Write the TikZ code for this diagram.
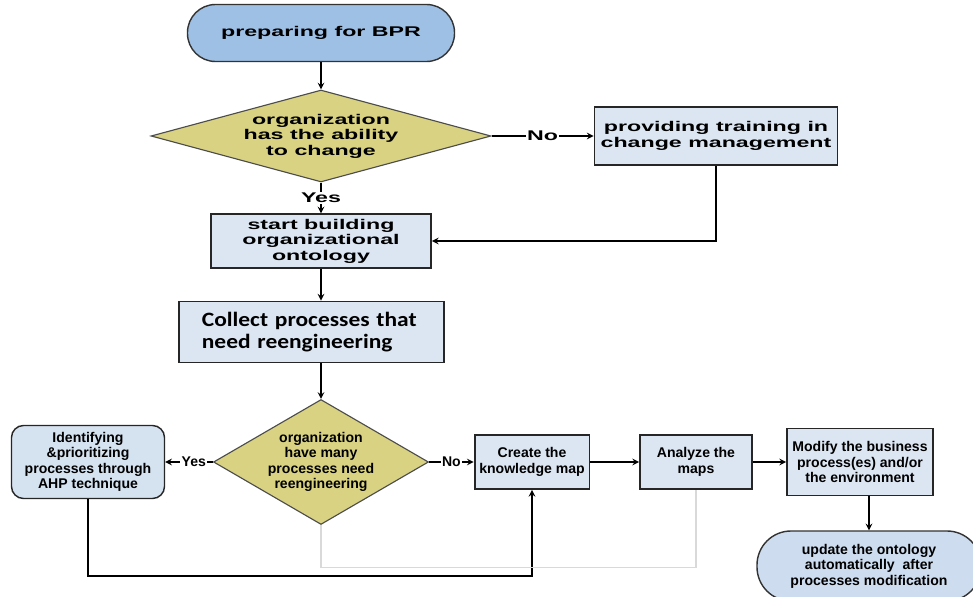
\documentclass[tikz,border=0pt]{standalone}
\usepackage{fontspec}
\setmainfont{Liberation Sans}
\newfontfamily\widefont[FakeStretch=1.65]{Liberation Sans}
\newfontfamily\calibfont[FakeStretch=1.15]{Carlito}
\usepackage{tikz}
\usetikzlibrary{arrows.meta, positioning, shapes.geometric}
\definecolor{termblue}{RGB}{158,192,228}
\definecolor{boxblue}{RGB}{220,230,242}
\definecolor{ahpblue}{RGB}{213,226,240}
\definecolor{endblue}{RGB}{205,220,238}
\definecolor{decyellow}{RGB}{216,210,130}

\begin{document}
\begin{tikzpicture}[
        node distance = 2.5cm,
        terminal/.style={rectangle, rounded corners=0.7cm, draw=black!80, line width=1pt, fill=termblue, text centered},
        process/.style={rectangle, draw=black!85, line width=1.3pt, fill=boxblue, text centered},
        decision/.style={diamond, draw=black!70, line width=0.8pt, fill=decyellow, text centered, inner sep=0pt},
        toptext/.style={font=\widefont\bfseries\fontsize{10}{11}\selectfont, align=center},
        lowtext/.style={font=\bfseries\fontsize{10}{11}\selectfont, align=center},
        arrow/.style={->, line width=1.1pt, >=stealth},
        faint/.style={draw=black!15, line width=0.8pt}
    ]
        \useasboundingbox (0,0) rectangle (24.325,-14.925);

        % upper part
        \node[terminal, toptext, minimum width=6.675cm, minimum height=1.425cm] (prep) at (8.025,-0.825) {preparing for BPR};
        \node[decision, toptext, aspect=3.7, minimum width=8.5cm, minimum height=2.3cm, node distance=2.575cm, below of=prep] (ability) {organization\\has the ability\\to change};
        \node[process, toptext, minimum width=6.075cm, minimum height=1.45cm, node distance=9.875cm, right of=ability] (train) {providing training in\\change management};
        \node[process, toptext, minimum width=5.5cm, minimum height=1.3cm, node distance=2.625cm, below of=ability] (build) {start building\\organizational\\ontology};
        \node[process, font=\calibfont\bfseries\fontsize{14.5}{15.4}\selectfont, align=left, text width=5.475cm, minimum width=6.625cm, minimum height=1.525cm, node distance=2.275cm, below of=build, xshift=-0.24cm] (collect) {Collect processes that\\need reengineering};

        % lower part
        \node[decision, lowtext, aspect=1.72, minimum width=5.375cm, minimum height=3.125cm, node distance=3.25cm, below of=build, yshift=-2.275cm] (many) {organization\\have many\\processes need\\reengineering};
        \node[process, lowtext, rounded corners=0.3cm, fill=ahpblue, line width=1pt, minimum width=3.825cm, minimum height=1.825cm, node distance=5.825cm, left of=many] (ahp) {Identifying\\\&prioritizing\\processes through\\AHP technique};
        \node[process, lowtext, minimum width=2.8cm, minimum height=1.35cm, node distance=5.275cm, right of=many] (kmap) {Create the\\knowledge map};
        \node[process, lowtext, minimum width=2.8cm, minimum height=1.35cm, node distance=4.1cm, right of=kmap] (analyze) {Analyze the\\maps};
        \node[process, lowtext, minimum width=3.65cm, minimum height=1.675cm, node distance=4.1cm, right of=analyze] (modify) {Modify the business\\process(es) and/or\\the environment};
        \node[terminal, lowtext, fill=endblue, rounded corners=0.85cm, minimum width=5.6cm, minimum height=1.75cm, node distance=2.6cm, below of=modify, xshift=0.225cm] (update) {update the ontology\\automatically\ \ after\\processes modification};

        \draw[arrow] (prep) -- (ability);
        \draw[arrow] (ability) -- node[toptext, fill=white, inner sep=1pt] {No} (train);
        \draw[arrow] (ability) -- node[toptext, fill=white, inner sep=1pt] {Yes} (build);
        \draw[arrow] (train.south) |- (build.east);
        \draw[arrow] (build) -- (build |- collect.north);
        \draw[arrow] (many |- collect.south) -- (many);
        \draw[arrow] (many) -- node[lowtext, fill=white, inner sep=1pt, pos=0.4] {Yes} (ahp);
        \draw[arrow] (many) -- node[lowtext, fill=white, inner sep=1pt] {No} (kmap);
        \draw[arrow] (kmap) -- (analyze);
        \draw[arrow] (analyze) -- (modify);
        \draw[arrow] (update |- modify.south) -- (update);
        \draw[arrow] (ahp.south) -- ++(0,-1.925) -| (kmap.south);
        \draw[faint] (many.south) -- ++(0,-1.05) -| (analyze.south);
    \end{tikzpicture}
\end{document}
